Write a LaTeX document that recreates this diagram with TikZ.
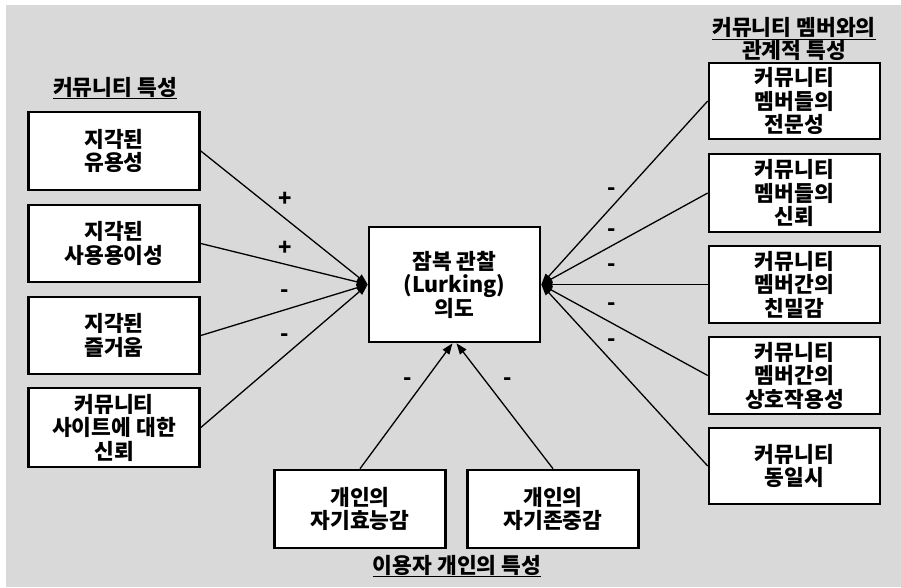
\documentclass[tikz,border=0pt]{standalone}
\usepackage{fontspec}
\setmainfont{Noto Sans CJK KR}
\usetikzlibrary{arrows.meta}
\definecolor{bggray}{HTML}{D9D9D9}
\tikzset{
  box/.style={draw=black, line width=2.6pt, fill=white, align=center, inner sep=0pt,
    minimum width=171pt, font=\fontsize{21.5}{23.5}\selectfont\bfseries},
  ttl/.style={align=center, inner sep=0pt, font=\fontsize{21.5}{22}\selectfont\bfseries},
  sgn/.style={inner sep=0pt, font=\fontsize{22}{22}\selectfont\bfseries},
  arr/.style={line width=1.3pt, -{Triangle[length=11pt,width=8pt]}}
}
\begin{document}
\begin{tikzpicture}[x=1pt,y=-1pt]
\useasboundingbox (0,0) rectangle (901,587);
\fill[bggray] (6,5) rectangle (901,587);
% titles
\node[ttl] (t1) at (115,88) {\underline{커뮤니티 특성}};
\node[ttl] (t2) at (794,40) {\underline{커뮤니티 멤버와의}\\\underline{관계적 특성}};
\node[ttl] (t3) at (457,566) {\underline{이용자 개인의 특성}};
% left boxes
\node[box, minimum height=78pt] (l1) at (114,151) {지각된\\유용성};
\node[box, minimum height=77pt] (l2) at (114,243.5) {지각된\\사용용이성};
\node[box, minimum height=77pt] (l3) at (114,335.5) {지각된\\즐거움};
\node[box, minimum height=79pt] (l4) at (114,427.5) {커뮤니티\\사이트에 대한\\신뢰};
% center
\node[box, minimum height=115pt] (c) at (454.5,284.5) {잠복 관찰\\(Lurking)\\의도};
% right boxes
\node[box, minimum height=76pt] (r1) at (794.5,101) {커뮤니티\\멤버들의\\전문성};
\node[box, minimum height=78pt] (r2) at (794.5,193) {커뮤니티\\멤버들의\\신뢰};
\node[box, minimum height=77pt] (r3) at (794.5,284.5) {커뮤니티\\멤버간의\\친밀감};
\node[box, minimum height=77pt] (r4) at (794.5,375.5) {커뮤니티\\멤버간의\\상호작용성};
\node[box, minimum height=76pt] (r5) at (794.5,466) {커뮤니티\\동일시};
% bottom boxes
\node[box, minimum height=78pt] (b1) at (360,509) {개인의\\자기효능감};
\node[box, minimum height=78pt] (b2) at (553,509) {개인의\\자기존중감};
% target coordinates
\coordinate (cw) at (c.west);
\coordinate (ce) at (c.east);
\coordinate (cs1) at ([xshift=-2pt]c.south);
\coordinate (cs2) at ([xshift=2pt]c.south);
% connectors
\foreach \s in {l1,l2,l3,l4} \draw[arr] (\s.east) -- (cw);
\foreach \s in {r1,r2,r3,r4,r5} \draw[arr] (\s.west) -- (ce);
\draw[arr] (b1.north) -- (cs1);
\draw[arr] (b2.north) -- (cs2);
% signs
\node[sgn] (p1) at (285,199) {+};
\node[sgn] (p2) at (285,248) {+};
\node[sgn] (m1) at (285,294) {-};
\node[sgn] (m2) at (285,338) {-};
\node[sgn] (m3) at (612,192) {-};
\node[sgn] (m4) at (612,233) {-};
\node[sgn] (m5) at (612,268) {-};
\node[sgn] (m6) at (612,307) {-};
\node[sgn] (m7) at (612,343) {-};
\node[sgn] (m8) at (408,382) {-};
\node[sgn] (m9) at (508,382) {-};
\end{tikzpicture}
\end{document}
